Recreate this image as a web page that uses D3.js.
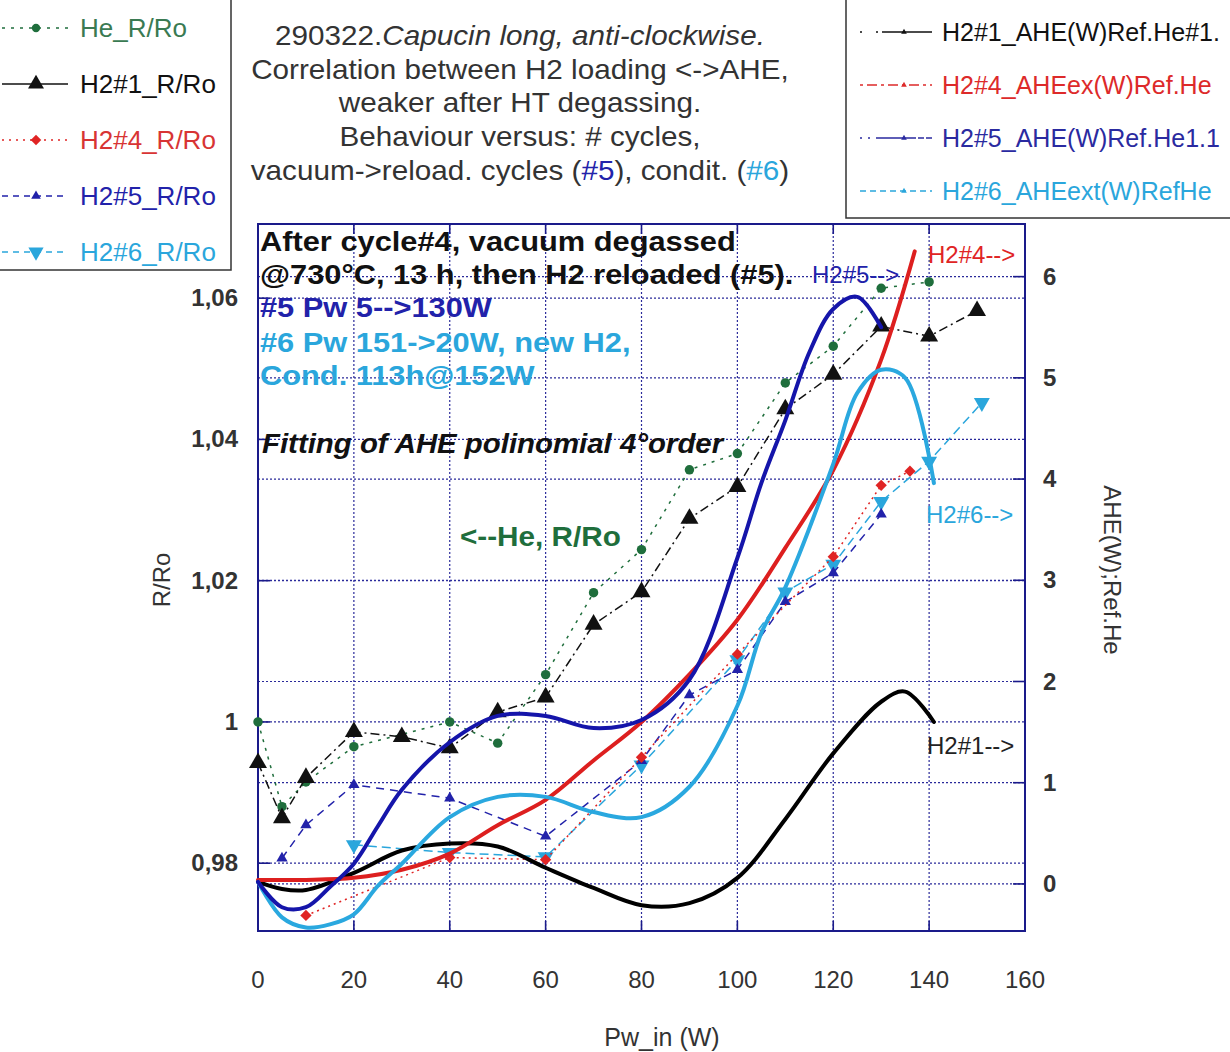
<!DOCTYPE html>
<html lang="en">
<head>
<meta charset="UTF-8">
<title>Capucin long - AHE vs R/Ro</title>
<style>
  body { margin: 0; background: #fff; }
  svg text { font-family: "Liberation Sans", Arial, sans-serif; }
  .grid { stroke: #2a2a9a; stroke-width: 1.2; stroke-dasharray: 2,2; fill: none; }
  .tick { stroke: #1a1a8a; stroke-width: 1.6; }
</style>
</head>
<body>
<div id="chart"></div>
<script src="https://d3js.org/d3.v7.min.js"></script>
<script>
// ---- data ----
const pwHe = [0, 5, 10, 20, 40, 50, 60, 70, 80, 90, 100, 110, 120, 130, 140];
const rHe  = [1.000, 0.988, 0.9915, 0.9965, 1.000, 0.997, 1.0067, 1.0183, 1.0244, 1.0357, 1.038, 1.048, 1.0532, 1.0614, 1.0623];

const pwH1 = [0, 5, 10, 20, 30, 40, 50, 60, 70, 80, 90, 100, 110, 120, 130, 140, 150];
const rH1  = [0.9942, 0.9864, 0.9921, 0.9986, 0.9979, 0.9963, 1.0014, 1.0035, 1.0138, 1.0184, 1.0288, 1.0333, 1.0443, 1.0492, 1.0560, 1.0546, 1.0582];

const pwH4 = [10, 40, 60, 80, 100, 120, 130, 136];
const rH4  = [0.9726, 0.9808, 0.9805, 0.9950, 1.0096, 1.0234, 1.0335, 1.0355];

const pwH5 = [5, 10, 20, 40, 60, 80, 90, 100, 110, 120, 130];
const rH5  = [0.9807, 0.9854, 0.9911, 0.9892, 0.9838, 0.9945, 1.0038, 1.0074, 1.0170, 1.0211, 1.0294];

const pwH6 = [20, 40, 60, 80, 100, 110, 120, 130, 140, 151];
const rH6  = [0.9826, 0.9815, 0.9809, 0.9939, 1.0088, 1.0184, 1.0223, 1.0312, 1.0369, 1.0452];

// polynomial fits of AHE (right axis)
const fitPw1 = [0, 5, 10, 20, 30, 40, 50, 60, 70, 80, 90, 100, 110, 120, 130, 135, 141];
const ahe1   = [0.02, -0.05, -0.06, 0.11, 0.33, 0.40, 0.37, 0.16, -0.04, -0.21, -0.19, 0.06, 0.64, 1.29, 1.80, 1.90, 1.60];

const fitPw4 = [0, 10, 20, 30, 40, 50, 60, 70, 80, 90, 100, 110, 120, 130, 137];
const ahe4   = [0.04, 0.04, 0.06, 0.14, 0.30, 0.58, 0.83, 1.22, 1.60, 2.07, 2.61, 3.32, 4.09, 5.18, 6.25];

const fitPw5 = [0, 5, 10, 15, 20, 25, 30, 40, 50, 60, 70, 80, 90, 100, 105, 110, 115, 120, 125, 130];
const ahe5   = [0.02, -0.23, -0.23, -0.03, 0.20, 0.57, 0.93, 1.40, 1.66, 1.66, 1.54, 1.62, 2.02, 3.22, 3.96, 4.58, 5.25, 5.68, 5.80, 5.50];

const fitPw6 = [0, 5, 10, 15, 20, 25, 30, 40, 50, 60, 70, 80, 90, 100, 105, 110, 120, 125, 130, 135, 141];
const ahe6   = [0.02, -0.33, -0.43, -0.40, -0.30, -0.02, 0.20, 0.66, 0.86, 0.86, 0.71, 0.66, 0.96, 1.76, 2.48, 2.93, 4.15, 4.85, 5.08, 5.00, 3.96];

const xTicks = [0, 20, 40, 60, 80, 100, 120, 140, 160];
const leftTicks = [0.98, 1, 1.02, 1.04, 1.06];
const leftLabels = ["0,98", "1", "1,02", "1,04", "1,06"];
const rightTicks = [0, 1, 2, 3, 4, 5, 6];

const titleLines = [
  "290322.",
  "Correlation between H2 loading <->AHE,",
  "weaker after HT degassing.",
  "Behaviour versus: # cycles,"
];

// ---- layout ----
const W = 1230, H = 1052;
const P = { left: 258, right: 1025, top: 224, bottom: 931 };

const svg = d3.select("#chart").append("svg")
  .attr("width", W).attr("height", H);

const x = d3.scaleLinear().domain([0, 160]).range([P.left, P.right]);
const yL = d3.scaleLinear().domain([0.9704, 1.0705]).range([P.bottom, P.top]);
const yR = d3.scaleLinear().domain([-0.465, 6.52]).range([P.bottom, P.top]);

const C = {
  he: "#1f6e3c", heText: "#3a7a52",
  h1: "#111111",
  h4: "#e02424", h4Text: "#d83434",
  h5: "#2222aa",
  h6: "#2aa6dc"
};

// text helper; sx stretches glyphs horizontally (the source text is wide)
function txt(xp, yp, s, o) {
  o = o || {};
  const sx = o.sx || 1;
  const t = svg.append("text")
    .attr("x", xp / sx).attr("y", yp)
    .attr("font-size", o.size || 24)
    .attr("font-weight", o.bold ? "bold" : "normal")
    .attr("font-style", o.italic ? "italic" : "normal")
    .attr("fill", o.color || "#222")
    .attr("text-anchor", o.anchor || "start")
    .text(s);
  if (sx !== 1) t.attr("transform", `scale(${sx},1)`);
  return t;
}

// grid
const grid = svg.append("g");
xTicks.slice(1, -1).forEach(v => {
  grid.append("line").attr("class", "grid")
    .attr("x1", x(v)).attr("x2", x(v)).attr("y1", P.top).attr("y2", P.bottom);
});
leftTicks.forEach(v => {
  grid.append("line").attr("class", "grid")
    .attr("x1", P.left).attr("x2", P.right).attr("y1", yL(v)).attr("y2", yL(v));
});
rightTicks.forEach(v => {
  grid.append("line").attr("class", "grid")
    .attr("x1", P.left).attr("x2", P.right).attr("y1", yR(v)).attr("y2", yR(v));
});

// frame + inward ticks
svg.append("rect")
  .attr("x", P.left).attr("y", P.top)
  .attr("width", P.right - P.left).attr("height", P.bottom - P.top)
  .attr("fill", "none").attr("stroke", "#1a1a8a").attr("stroke-width", 2);

const tk = svg.append("g");
xTicks.slice(1, -1).forEach(v => {
  tk.append("line").attr("class", "tick").attr("x1", x(v)).attr("x2", x(v)).attr("y1", P.bottom).attr("y2", P.bottom - 10);
  tk.append("line").attr("class", "tick").attr("x1", x(v)).attr("x2", x(v)).attr("y1", P.top).attr("y2", P.top + 10);
});
leftTicks.forEach(v => {
  tk.append("line").attr("class", "tick").attr("x1", P.left).attr("x2", P.left + 12).attr("y1", yL(v)).attr("y2", yL(v));
});
rightTicks.forEach(v => {
  tk.append("line").attr("class", "tick").attr("x1", P.right).attr("x2", P.right - 12).attr("y1", yR(v)).attr("y2", yR(v));
});

// tick labels
xTicks.forEach(v => txt(x(v), 988, String(v), { size: 24, anchor: "middle", color: "#333" }));
leftTicks.forEach((v, i) => txt(238, yL(v) + 8, leftLabels[i], { size: 24, bold: true, anchor: "end", color: "#333" }));
rightTicks.forEach(v => txt(1043, yR(v) + 8, String(v), { size: 24, bold: true, color: "#333" }));

// axis titles
txt(662, 1046, "Pw_in (W)", { size: 25, anchor: "middle", color: "#333" });
svg.append("text")
  .attr("transform", "translate(170,580) rotate(-90)")
  .attr("font-size", 24).attr("fill", "#333").attr("text-anchor", "middle")
  .text("R/Ro");
svg.append("text")
  .attr("transform", "translate(1104,570) rotate(90)")
  .attr("font-size", 24).attr("fill", "#333").attr("text-anchor", "middle")
  .text("AHE(W);Ref.He");

// ---- annotations inside plot (drawn before data) ----
const annot = [
  ["After cycle#4, vacuum degassed", 251, "#111"],
  ["@730°C, 13 h, then H2 reloaded (#5).", 284, "#111"],
  ["#5 Pw 5-->130W", 317, C.h5],
  ["#6 Pw 151->20W, new H2,", 352, C.h6],
  ["Cond. 113h@152W", 385, C.h6]
];
annot.forEach(a => txt(260, a[1], a[0], { size: 28, sx: 1.1, bold: true, color: a[2] }));
txt(262, 453, "Fitting of AHE polinomial 4°order", { size: 28, sx: 1.05, bold: true, italic: true, color: "#111" });
txt(460, 546, "<--He, R/Ro", { size: 27, sx: 1.1, bold: true, color: C.he });

// ---- measured series (left axis) ----
function series(xs, ys, color, dash, sym, size, rot) {
  const pts = xs.map((v, i) => [x(v), yL(ys[i])]);
  svg.append("path")
    .attr("d", d3.line()(pts))
    .attr("fill", "none").attr("stroke", color)
    .attr("stroke-width", 1.5).attr("stroke-dasharray", dash);
  svg.append("g").selectAll("path").data(pts).enter().append("path")
    .attr("d", d3.symbol().type(sym).size(size))
    .attr("transform", d => `translate(${d[0]},${d[1]}) rotate(${rot || 0})`)
    .attr("fill", color);
}

series(pwHe, rHe, C.he, "3,6", d3.symbolCircle, 70);
series(pwH6, rH6, C.h6, "9,5", d3.symbolTriangle, 110, 180);
series(pwH5, rH5, C.h5, "8,6", d3.symbolTriangle, 55);
series(pwH4, rH4, C.h4, "2,4", d3.symbolSquare, 64, 45);
series(pwH1, rH1, C.h1, "9,4,2,4", d3.symbolTriangle, 140);

// ---- fitted AHE curves (right axis) ----
function fit(xs, ys, color) {
  const line = d3.line()
    .x((d, i) => x(xs[i]))
    .y(d => yR(d))
    .curve(d3.curveCatmullRom.alpha(0.5));
  svg.append("path")
    .attr("d", line(ys))
    .attr("fill", "none").attr("stroke", color)
    .attr("stroke-width", 4).attr("stroke-linecap", "round");
}
fit(fitPw1, ahe1, "#000");
fit(fitPw4, ahe4, "#dd1f1f");
fit(fitPw6, ahe6, "#2aa8df");
fit(fitPw5, ahe5, "#1515aa");

txt(812, 283, "H2#5-->", { size: 24, color: C.h5 });
txt(928, 263, "H2#4-->", { size: 24, color: C.h4 });
txt(926, 523, "H2#6-->", { size: 24, color: C.h6 });
txt(927, 754, "H2#1-->", { size: 24, color: "#222" });

// ---- title ----
const tY = [45, 79, 112, 146, 180];
const tOpt = { size: 28, sx: 1.06, anchor: "middle", color: "#333" };
const t0 = txt(520, tY[0], titleLines[0], tOpt);
t0.append("tspan").attr("font-style", "italic").text("Capucin long, anti-clockwise.");
titleLines.slice(1).forEach((s, i) => txt(520, tY[i + 1], s, tOpt));
const t5 = txt(520, tY[4], "vacuum->reload. cycles (", tOpt);
t5.append("tspan").attr("fill", C.h5).text("#5");
t5.append("tspan").text("), condit. (");
t5.append("tspan").attr("fill", C.h6).text("#6");
t5.append("tspan").text(")");

// ---- left legend ----
svg.append("rect").attr("x", -2).attr("y", -2).attr("width", 233).attr("height", 272)
  .attr("fill", "#fff").attr("stroke", "#333").attr("stroke-width", 1.5);
const legL = [
  { name: "He_R/Ro", color: C.he, text: C.heText, dash: "3,6", sym: d3.symbolCircle, size: 55, rot: 0 },
  { name: "H2#1_R/Ro", color: C.h1, text: "#111", dash: "none", sym: d3.symbolTriangle, size: 110, rot: 0 },
  { name: "H2#4_R/Ro", color: C.h4, text: C.h4Text, dash: "2,5", sym: d3.symbolSquare, size: 55, rot: 45 },
  { name: "H2#5_R/Ro", color: C.h5, text: C.h5, dash: "6,5", sym: d3.symbolTriangle, size: 40, rot: 0 },
  { name: "H2#6_R/Ro", color: C.h6, text: C.h6, dash: "6,5", sym: d3.symbolTriangle, size: 100, rot: 180 }
];
legL.forEach((d, i) => {
  const cy = 28 + i * 56;
  svg.append("line").attr("x1", 2).attr("x2", 68).attr("y1", cy).attr("y2", cy)
    .attr("stroke", d.color).attr("stroke-width", 1.5).attr("stroke-dasharray", d.dash);
  svg.append("path").attr("d", d3.symbol().type(d.sym).size(d.size))
    .attr("transform", `translate(36,${cy}) rotate(${d.rot})`).attr("fill", d.color);
  txt(80, cy + 9, d.name, { size: 26, color: d.text });
});

// ---- right legend ----
svg.append("rect").attr("x", 846).attr("y", -2).attr("width", 390).attr("height", 220)
  .attr("fill", "#fff").attr("stroke", "#333").attr("stroke-width", 1.5);
const legR = [
  { name: "H2#1_AHE(W)Ref.He#1.", color: "#111", dash: "2,14,2,4,60" },
  { name: "H2#4_AHEex(W)Ref.He", color: "#dd2a2a", dash: "3,4,10,4" },
  { name: "H2#5_AHE(W)Ref.He1.1", color: "#2a2aa0", dash: "2,6,2,6,40" },
  { name: "H2#6_AHEext(W)RefHe", color: C.h6, dash: "6,4" }
];
legR.forEach((d, i) => {
  const cy = 32 + i * 53;
  svg.append("line").attr("x1", 860).attr("x2", 932).attr("y1", cy).attr("y2", cy)
    .attr("stroke", d.color).attr("stroke-width", 1.5).attr("stroke-dasharray", d.dash);
  svg.append("path").attr("d", d3.symbol().type(d3.symbolTriangle).size(14))
    .attr("transform", `translate(904,${cy})`).attr("fill", d.color);
  txt(942, cy + 9, d.name, { size: 25, color: d.color });
});
</script>
</body>
</html>
